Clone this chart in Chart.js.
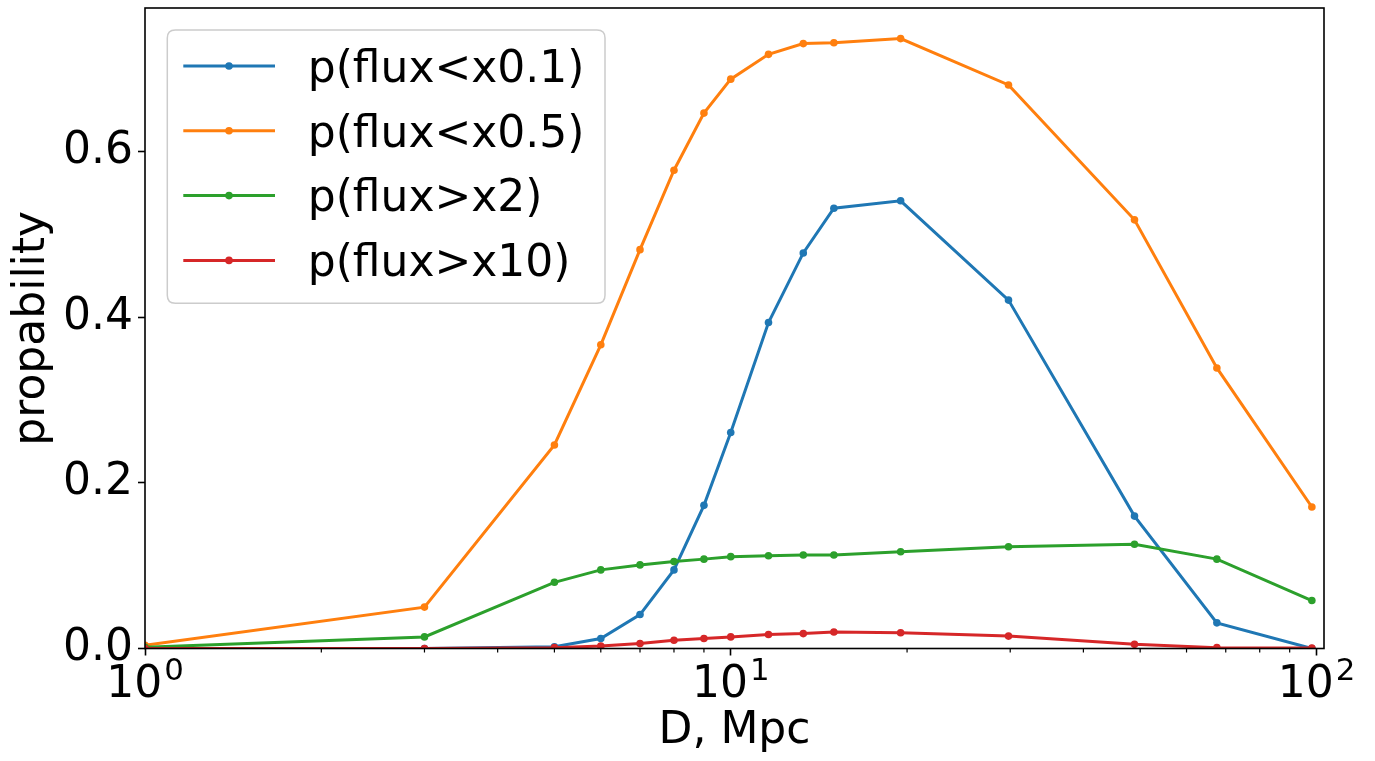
<!DOCTYPE html>
<html><head><meta charset="utf-8">
<script src="https://cdn.jsdelivr.net/npm/chart.js@4.4.0/dist/chart.umd.min.js"></script>
<style>html,body{margin:0;padding:0;background:#fff;}canvas{display:block;}</style>
</head><body>
<canvas id="c" width="1375" height="761"></canvas>
<script>
// ---- data ----
const distances = [1, 3, 5, 6, 7, 8, 9, 10, 11.6, 13.3, 15, 19.5, 29.8, 48.9, 67.6, 98.2];
const pFluxLt01 = [0, 0, 0.002, 0.012, 0.041, 0.095, 0.173, 0.261, 0.394, 0.478, 0.532, 0.541, 0.421, 0.160, 0.031, 0.000];
const pFluxLt05 = [0.004, 0.050, 0.246, 0.367, 0.482, 0.578, 0.647, 0.688, 0.718, 0.731, 0.732, 0.737, 0.681, 0.518, 0.339, 0.171];
const pFluxGt2  = [0.0015, 0.014, 0.080, 0.095, 0.101, 0.105, 0.108, 0.111, 0.112, 0.113, 0.113, 0.117, 0.123, 0.126, 0.108, 0.058];
const pFluxGt10 = [0, 0, 0.001, 0.003, 0.006, 0.010, 0.012, 0.014, 0.017, 0.018, 0.020, 0.019, 0.015, 0.005, 0.001, 0.0006];
const seriesLabels = ['p(flux<x0.1)', 'p(flux<x0.5)', 'p(flux>x2)', 'p(flux>x10)'];
const seriesColors = ['#1f77b4', '#ff7f0e', '#2ca02c', '#d62728'];
const xMajorTicks = [1, 10, 100];
const xTickBase = ['10', '10', '10'];
const xTickExp = ['0', '1', '2'];
const xMinorTicks = [2, 3, 4, 5, 6, 7, 8, 9, 20, 30, 40, 50, 60, 70, 80, 90];
const yTicks = [0, 0.2, 0.4, 0.6];

const FONT = "'DejaVu Sans', sans-serif";
Chart.defaults.font.family = FONT;
Chart.defaults.color = '#000';

const seriesValues = [pFluxLt01, pFluxLt05, pFluxGt2, pFluxGt10];
const datasets = seriesValues.map((vals, i) => ({
  label: seriesLabels[i],
  data: distances.map((d, j) => ({x: d, y: vals[j]})),
  borderColor: seriesColors[i],
  backgroundColor: seriesColors[i],
  pointBackgroundColor: seriesColors[i],
  pointBorderWidth: 0,
  pointRadius: 3.8,
  borderWidth: 3,
  tension: 0,
  fill: false,
  clip: 0,
  order: 4 - i
}));

const framePlugin = {
  id: 'frame',
  afterDatasetsDraw(chart) {
    const {ctx, chartArea: a, scales} = chart;
    ctx.save();
    ctx.strokeStyle = '#000';
    ctx.lineWidth = 1.2;
    xMinorTicks.forEach(v => {
      const px = scales.x.getPixelForValue(v);
      ctx.beginPath();
      ctx.moveTo(px, a.bottom);
      ctx.lineTo(px, a.bottom + 4);
      ctx.stroke();
    });
    ctx.lineWidth = 1.6;
    ctx.strokeRect(a.left, a.top, a.right - a.left, a.bottom - a.top);
    // x tick labels: base with superscript exponent
    ctx.fillStyle = '#000';
    ctx.textAlign = 'left';
    ctx.textBaseline = 'alphabetic';
    xMajorTicks.forEach((v, k) => {
      const px = scales.x.getPixelForValue(v);
      ctx.font = '44px ' + FONT;
      const wb = ctx.measureText(xTickBase[k]).width;
      ctx.font = '30.8px ' + FONT;
      const we = ctx.measureText(xTickExp[k]).width;
      const gap = 2;
      const x0 = px - (wb + gap + we) / 2;
      ctx.font = '44px ' + FONT;
      ctx.fillText(xTickBase[k], x0, a.bottom + 48.2);
      ctx.font = '30.8px ' + FONT;
      ctx.fillText(xTickExp[k], x0 + wb + gap, a.bottom + 31.5);
    });
    ctx.restore();
  },
  afterDraw(chart) {
    const {ctx} = chart;
    const bx = 167.3, by = 30, bw = 437.7, bh = 273.3, r = 8;
    ctx.save();
    ctx.beginPath();
    ctx.moveTo(bx + r, by);
    ctx.lineTo(bx + bw - r, by);
    ctx.quadraticCurveTo(bx + bw, by, bx + bw, by + r);
    ctx.lineTo(bx + bw, by + bh - r);
    ctx.quadraticCurveTo(bx + bw, by + bh, bx + bw - r, by + bh);
    ctx.lineTo(bx + r, by + bh);
    ctx.quadraticCurveTo(bx, by + bh, bx, by + bh - r);
    ctx.lineTo(bx, by + r);
    ctx.quadraticCurveTo(bx, by, bx + r, by);
    ctx.closePath();
    ctx.fillStyle = 'rgba(255,255,255,0.8)';
    ctx.fill();
    ctx.strokeStyle = '#cccccc';
    ctx.lineWidth = 1.5;
    ctx.stroke();
    const rowY0 = 66, rowStep = 64.8;
    chart.data.datasets.forEach((ds, i) => {
      const y = rowY0 + i * rowStep;
      ctx.strokeStyle = ds.borderColor;
      ctx.lineWidth = 3;
      ctx.beginPath();
      ctx.moveTo(183.3, y);
      ctx.lineTo(275, y);
      ctx.stroke();
      ctx.fillStyle = ds.borderColor;
      ctx.beginPath();
      ctx.arc(229, y, 3.8, 0, Math.PI * 2);
      ctx.fill();
      ctx.fillStyle = '#000';
      ctx.font = '44px ' + FONT;
      ctx.textAlign = 'left';
      ctx.textBaseline = 'alphabetic';
      ctx.fillText(ds.label, 307.7, y + 15.7);
    });
    ctx.restore();
  }
};

new Chart(document.getElementById('c'), {
  type: 'line',
  data: {datasets},
  options: {
    responsive: false,
    animation: false,
    devicePixelRatio: 1,
    layout: {padding: {left: 0, top: 8, right: 51, bottom: 0}},
    plugins: {legend: {display: false}, tooltip: {enabled: false}},
    scales: {
      x: {
        type: 'logarithmic',
        min: 1,
        max: 103,
        afterFit(s) { s.height = 112.5; s.paddingLeft = 0; s.paddingRight = 0; },
        afterBuildTicks(s) { s.ticks = xMajorTicks.map(v => ({value: v})); },
        ticks: {
          autoSkip: false,
          maxRotation: 0,
          padding: 0,
          font: {size: 44, lineHeight: 1.2},
          callback() { return ''; }
        },
        grid: {display: true, drawOnChartArea: false, drawTicks: true, tickLength: 7, tickWidth: 1.6, tickColor: '#000'},
        border: {display: false},
        title: {display: true, text: 'D, Mpc', font: {size: 44, lineHeight: 1.2}, padding: {top: 0, bottom: 3}}
      },
      y: {
        type: 'linear',
        min: 0,
        max: 0.774,
        afterFit(s) { s.width = 145; s.paddingTop = 0; s.paddingBottom = 0; },
        afterBuildTicks(s) { s.ticks = yTicks.map(v => ({value: v})); },
        ticks: {
          padding: 5,
          font: {size: 44, lineHeight: 1.2},
          callback(v) { return Number(v).toFixed(1); }
        },
        grid: {display: true, drawOnChartArea: false, drawTicks: true, tickLength: 7, tickWidth: 1.6, tickColor: '#000'},
        border: {display: false},
        title: {display: true, text: 'propability', font: {size: 44, lineHeight: 1.2}, padding: {top: 5.7, bottom: 0}}
      }
    }
  },
  plugins: [framePlugin]
});
</script>
</body></html>
